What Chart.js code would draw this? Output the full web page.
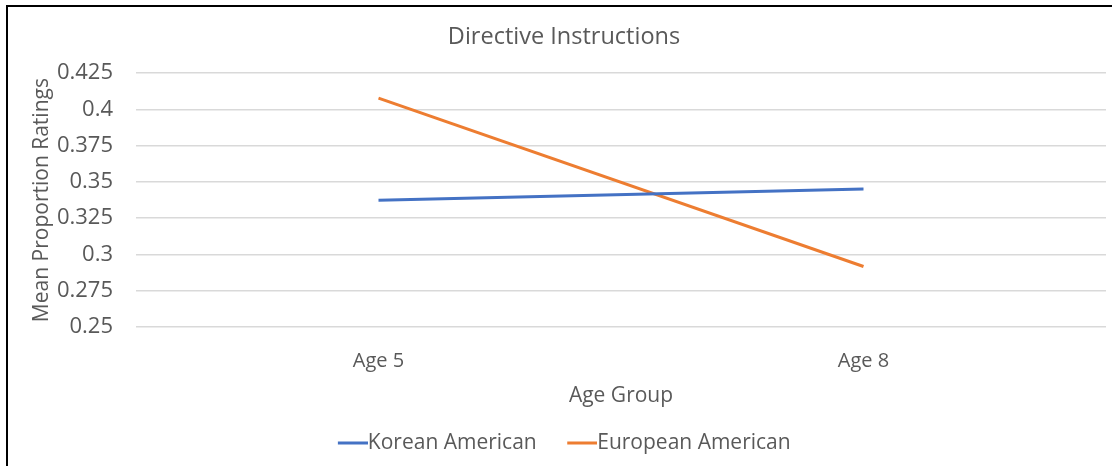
<!DOCTYPE html>
<html>
<head>
<meta charset="utf-8">
<script src="https://cdn.jsdelivr.net/npm/chart.js@4/dist/chart.umd.min.js"></script>
<style>
  html, body { margin: 0; padding: 0; background: #fff; }
  #wrap { position: relative; width: 1112px; height: 466px; overflow: hidden; }
  #frame { position: absolute; left: 6px; top: 5px; right: -4px; bottom: -4px;
           border-left: 2px solid #000; border-top: 2px solid #000; }
  canvas { position: absolute; left: 0; top: 0; }
</style>
</head>
<body>
<div id="wrap">
  <canvas id="chart" width="1112" height="466"></canvas>
  <div id="frame"></div>
</div>
<script>
var ageGroups = ["Age 5", "Age 8"];
var koreanAmerican = [0.3374, 0.3452];
var europeanAmerican = [0.4078, 0.2917];
var yTicks = { min: 0.25, max: 0.425, step: 0.025 };

var textColor = "#595959";
var fontFamily = "'Open Sans', sans-serif";

// short coloured stroke used as the legend marker; the transparent
// left part pushes the stroke right so it touches the label text
function lineMarker(color) {
  var c = document.createElement("canvas");
  c.width = 41;
  c.height = 4;
  var g = c.getContext("2d");
  g.fillStyle = color;
  g.fillRect(11, 0.5, 30, 3);
  return c;
}

var data = {
  labels: ageGroups,
  datasets: [
    {
      label: "Korean American",
      data: koreanAmerican,
      borderColor: "#4472C4",
      backgroundColor: "#4472C4",
      borderWidth: 3,
      pointRadius: 0,
      pointStyle: lineMarker("#4472C4"),
      tension: 0,
    },
    {
      label: "European American",
      data: europeanAmerican,
      borderColor: "#ED7D31",
      backgroundColor: "#ED7D31",
      borderWidth: 3,
      pointRadius: 0,
      pointStyle: lineMarker("#ED7D31"),
      tension: 0,
    },
  ],
};

var options = {
  responsive: false,
  animation: false,
  layout: {
    padding: { left: 22, right: 6, top: 9, bottom: 2.5 },
  },
  plugins: {
    title: {
      display: true,
      text: "Directive Instructions",
      color: textColor,
      font: { family: fontFamily, size: 23.5, weight: "normal" },
      padding: { top: 14, bottom: 22 },
    },
    legend: {
      position: "bottom",
      labels: {
        color: textColor,
        font: { family: fontFamily, size: 21 },
        usePointStyle: true,
        pointStyleWidth: 20,
        padding: 30,
      },
    },
    tooltip: { enabled: false },
  },
  scales: {
    x: {
      offset: true,
      grid: { display: false, drawTicks: false },
      border: { display: false },
      ticks: {
        color: textColor,
        font: { family: fontFamily, size: 20 },
        padding: 22,
      },
      title: {
        display: true,
        text: "Age Group",
        color: textColor,
        font: { family: fontFamily, size: 21 },
        padding: { top: 0, bottom: -6 },
      },
      afterFit: function (scale) {
        scale.height = 75.5;
      },
    },
    y: {
      min: yTicks.min,
      max: yTicks.max,
      grid: { color: "#D9D9D9", lineWidth: 1.5, drawTicks: false },
      border: { display: false },
      ticks: {
        stepSize: yTicks.step,
        color: textColor,
        font: { family: fontFamily, size: 22 },
        padding: 23,
        callback: function (value) {
          return String(Number(value.toFixed(3)));
        },
      },
      title: {
        display: true,
        text: "Mean Proportion Ratings",
        color: textColor,
        font: { family: fontFamily, size: 21 },
        padding: { top: 7, bottom: 0 },
      },
      afterFit: function (scale) {
        scale.width = 114;
      },
    },
  },
};

var chart = new Chart(document.getElementById("chart"), {
  type: "line",
  data: data,
  options: options,
});
</script>
</body>
</html>
